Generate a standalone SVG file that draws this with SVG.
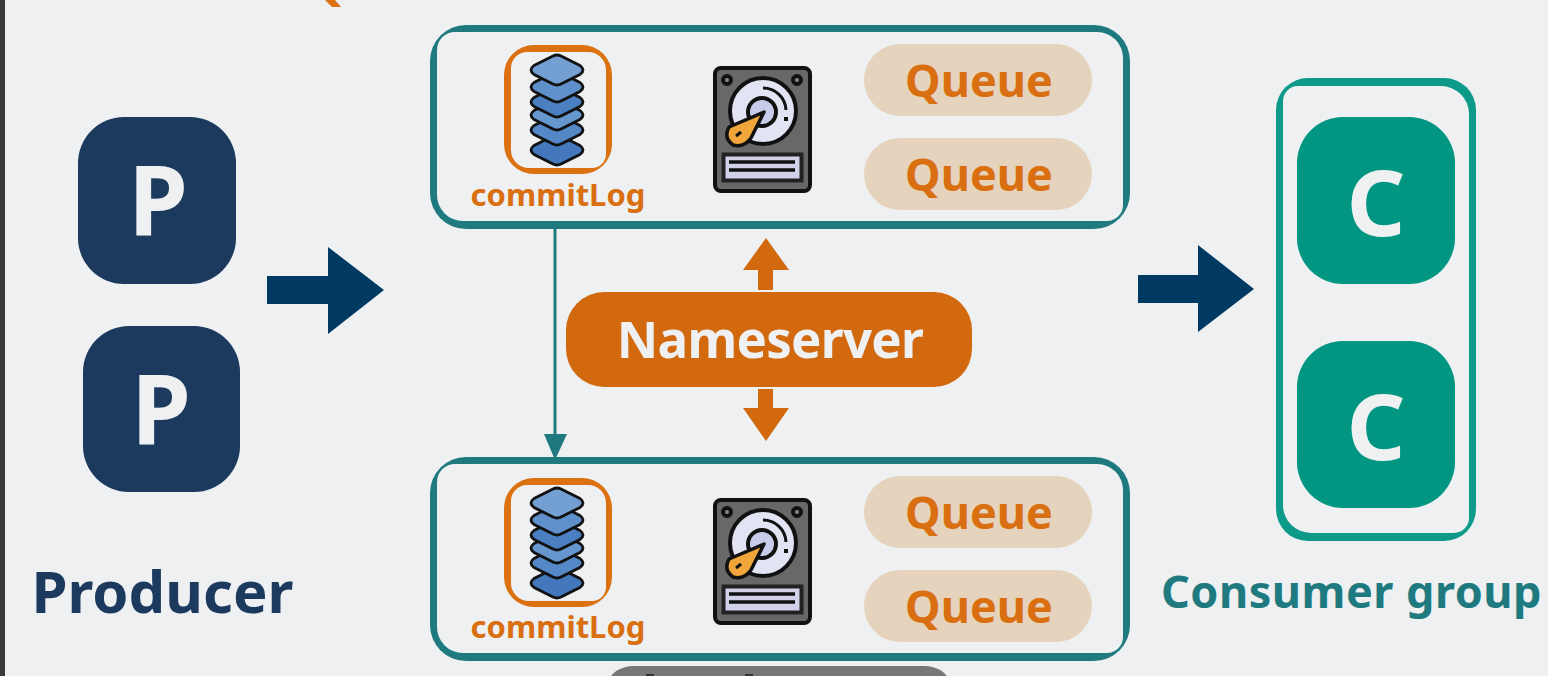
<svg xmlns="http://www.w3.org/2000/svg" width="1548" height="676" viewBox="0 0 1548 676">
<style>
text{font-family:"Noto Sans","Open Sans","Liberation Sans",sans-serif;font-weight:700}
.q{fill:#e6d3bd}
.qt{fill:#d96f10;font-size:45px;text-anchor:middle}
.cl{fill:#d96f10;font-size:31px;text-anchor:middle}
.big{font-size:96px;fill:#eef0f2;text-anchor:middle}
.bigc{font-size:92px;fill:#eef0f2;text-anchor:middle}
.d{stroke:#111;stroke-width:2.8;stroke-linejoin:round}
.dk{stroke:#111;stroke-width:4}
</style>
<defs>
<path id="dia" d="M-23,-4.5 Q-29,0 -23,4.5 L-4,14 Q0,16 4,14 L23,4.5 Q29,0 23,-4.5 L4,-14 Q0,-16 -4,-14 Z"/>
<path id="binner" d="M455,32 H1097 A26,26 0 0 1 1123,58 V205 A16,16 0 0 1 1107,221 H463 A26,26 0 0 1 437,195 V50 A18,18 0 0 1 455,32Z" fill="#eef0f2"/>
<g id="stack">
<rect x="504" y="45" width="108" height="129" rx="30" fill="#db7110"/>
<path d="M527,52 H588 A18,18 0 0 1 606,70 V154 A14,14 0 0 1 592,168 H529 A18,18 0 0 1 511,150 V68 A16,16 0 0 1 527,52Z" fill="#eef0f2"/>
<use href="#dia" x="557" y="150" class="d" fill="#4378bd"/>
<use href="#dia" x="557" y="130" class="d" fill="#5588c6"/>
<use href="#dia" x="557" y="115" class="d" fill="#6797cf"/>
<use href="#dia" x="557" y="102" class="d" fill="#4a7fc2"/>
<use href="#dia" x="557" y="87" class="d" fill="#5f90cb"/>
<use href="#dia" x="557" y="70" class="d" fill="#739fd3"/>
</g>
<g id="disk">
<rect x="715" y="68" width="95" height="123" rx="6" fill="#686868" class="dk"/>
<circle cx="727" cy="80" r="4" fill="#8a8a8a" class="dk"/>
<circle cx="797" cy="80" r="4" fill="#8a8a8a" class="dk"/>
<circle cx="763" cy="111" r="33" fill="#e2e4f3" class="dk"/>
<path d="M763,88 A23,23 0 0 1 786,110" fill="none" stroke="#111" stroke-width="3"/>
<rect x="784" y="117" width="4" height="4" fill="#111"/>
<circle cx="762" cy="112" r="14" fill="#c9cbea" class="dk"/>
<path d="M764,112 L751,138 Q744,148 733,145 Q723,138 729,127 Z" fill="#f0a63a" stroke="#111" stroke-width="3.5" stroke-linejoin="round"/>
<path d="M736,136 L741,132" stroke="#111" stroke-width="3"/>
<rect x="723.500" y="154.500" width="78" height="26" fill="#d2d1ea" stroke="#222" stroke-width="4"/>
<path d="M729,162 H795 M729,170 H795" stroke="#111" stroke-width="3.500"/>
</g>
</defs>
<rect width="1548" height="676" fill="#eef0f2"/>
<rect width="5" height="676" fill="#3a3a3a"/>
<polygon points="325,0 335,0 341,7 332,7" fill="#db7110"/>
<rect x="610" y="666" width="338" height="30" rx="24" fill="#777"/>
<rect x="646" y="674" width="8" height="2" fill="#333"/>
<rect x="745" y="674" width="8" height="2" fill="#333"/>

<g id="connectors">
<path d="M267,276H328V247L384,290L328,334V304H267Z" fill="#003a63"/>
<path d="M1138,275H1198V245L1254,289L1198,332V303H1138Z" fill="#003a63"/>
<path d="M758,290V270H743L766,238L789,270H773V290Z" fill="#d2690f"/>
<path d="M758,389V408H743L766,441L789,408H773V389Z" fill="#d2690f"/>
<path d="M555,228V438" stroke="#1f7a80" stroke-width="3" fill="none"/>
<polygon points="544,434 567,434 555,460" fill="#1f7a80"/>
</g>

<g id="producer-1"><rect x="78" y="117" width="158" height="167" rx="46" fill="#1c3a5e"/><text x="158" y="236" class="big">P</text></g>
<g id="producer-2"><rect x="83" y="326" width="157" height="166" rx="46" fill="#1c3a5e"/><text x="161" y="445" class="big">P</text></g>
<g id="producer-label"><text x="162.500" y="613" font-size="58" fill="#1c3a5e" text-anchor="middle">Producer</text></g>

<g id="broker-1">
<rect x="430" y="25" width="700" height="204" rx="36" fill="#1f7a80"/>
<use href="#binner"/>
<use href="#stack"/>
<text x="558" y="206" class="cl">commitLog</text>
<use href="#disk"/>
<rect x="864" y="44" width="228" height="72" rx="36" class="q"/>
<text x="979" y="97" class="qt">Queue</text>
<rect x="864" y="138" width="228" height="72" rx="36" class="q"/>
<text x="979" y="191" class="qt">Queue</text>
</g>

<g id="broker-2">
<rect x="430" y="457" width="700" height="204" rx="36" fill="#1f7a80"/>
<use href="#binner" y="432"/>
<use href="#stack" y="433"/>
<text x="558" y="638" class="cl">commitLog</text>
<use href="#disk" y="432"/>
<rect x="864" y="476" width="228" height="72" rx="36" class="q"/>
<text x="979" y="529" class="qt">Queue</text>
<rect x="864" y="570" width="228" height="72" rx="36" class="q"/>
<text x="979" y="623" class="qt">Queue</text>
</g>

<g id="nameserver"><rect x="566" y="292" width="406" height="95" rx="38" fill="#d2690f"/><text x="770" y="358" font-size="51" fill="#eef0f2" text-anchor="middle" letter-spacing="-0.7">Nameserver</text></g>

<g id="consumer-group">
<rect x="1276" y="78" width="200" height="463" rx="32" fill="#0d9a88"/>
<path d="M1298,86 H1441 A28,28 0 0 1 1469,114 V518 A15,15 0 0 1 1454,533 H1311 A28,28 0 0 1 1283,505 V101 A15,15 0 0 1 1298,86Z" fill="#eef0f2"/>
</g>
<g id="consumer-1"><rect x="1297" y="117" width="158" height="167" rx="46" fill="#009682"/><text x="1376" y="236" class="bigc">C</text></g>
<g id="consumer-2"><rect x="1297" y="341" width="158" height="167" rx="46" fill="#009682"/><text x="1376" y="460" class="bigc">C</text></g>
<g id="consumer-label"><text x="1351.500" y="608" font-size="45" fill="#1f7a80" text-anchor="middle" letter-spacing="0.5">Consumer group</text></g>
</svg>
